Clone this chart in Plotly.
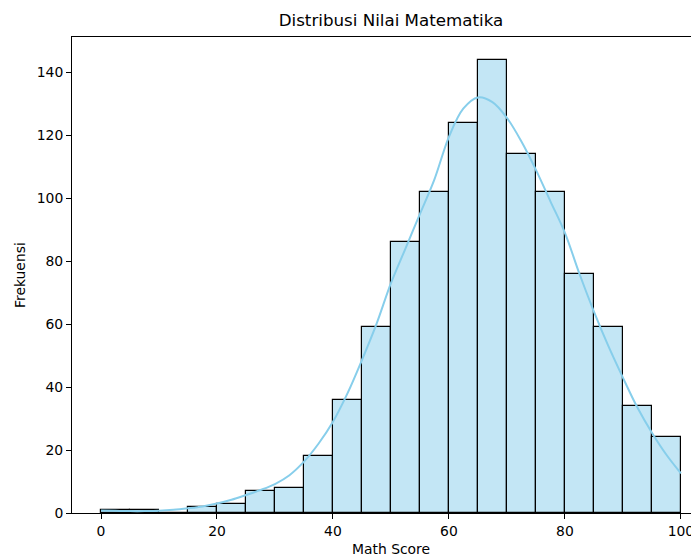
import plotly.graph_objects as go

# Histogram bins (width 5) and counts
bin_left = [0, 5, 10, 15, 20, 25, 30, 35, 40, 45, 50, 55, 60, 65, 70, 75, 80, 85, 90, 95]
counts = [1, 1, 0, 2, 3, 7, 8, 18, 36, 59, 86, 102, 124, 144, 114, 102, 76, 59, 34, 24]
bin_width = 5

# KDE curve
kde_x = [0, 2.5, 5, 7.5, 10, 12.5, 15, 17.5, 20, 22.5, 25, 27.5, 30, 32.5, 35, 37.5,
         40, 42.5, 45, 47.5, 50, 52.5, 55, 57.5, 60, 62.5, 65, 67.5, 70, 72.5, 75,
         77.5, 80, 82.5, 85, 87.5, 90, 92.5, 95, 97.5, 100]
kde_y = [0.8, 0.7, 0.6, 0.6, 0.7, 1.0, 1.5, 2.1, 3.0, 4.2, 5.7, 7.3, 9.2, 12.0, 16.3, 22,
         29, 38, 48.6, 60, 73, 84, 95, 106, 119.5, 128.5, 132, 130.5, 125.5, 118, 109,
         99, 89, 76, 64, 53, 43, 33.5, 25.5, 18.5, 12.6]

x_ticks = [0, 20, 40, 60, 80, 100]
y_ticks = [0, 20, 40, 60, 80, 100, 120, 140]

centers = [b + bin_width / 2 for b in bin_left]

fig = go.Figure()
fig.add_trace(go.Bar(
    x=centers, y=counts, width=[bin_width] * len(counts),
    marker=dict(color="rgba(135,206,235,0.5)", line=dict(color="black", width=1.2)),
    showlegend=False, hoverinfo="x+y",
))
fig.add_trace(go.Scatter(
    x=kde_x, y=kde_y, mode="lines",
    line=dict(color="rgb(135,206,235)", width=2, shape="spline"),
    showlegend=False,
))

font_family = "DejaVu Sans"
W, H = 699, 556  # page body adds an 8px offset; right/bottom overflow is cropped
PW, PH = W - 64, 476
fig.update_layout(
    width=W, height=H,
    margin=dict(l=64, r=0, t=29, b=H - 29 - PH, autoexpand=False),
    plot_bgcolor="white", paper_bgcolor="white",
    bargap=0,
    font=dict(family=font_family, size=13.9, color="black"),
    title=dict(text="Distribusi Nilai Matematika", xref="container", yref="container",
               x=383 / W, y=1 - 12 / H, xanchor="center", yanchor="middle",
               font=dict(family=font_family, size=16.7, color="black")),
    xaxis=dict(range=[-5, 104.5], tickvals=x_ticks, ticks="outside", ticklen=5,
               tickcolor="black", showline=True, linecolor="black", linewidth=1,
               mirror=True, showgrid=False, zeroline=False,
               tickfont=dict(family=font_family, size=13.9)),
    yaxis=dict(range=[0, 151.2], tickvals=y_ticks, ticks="outside", ticklen=5,
               tickcolor="black", showline=True, linecolor="black", linewidth=1,
               showgrid=False, zeroline=False,
               tickfont=dict(family=font_family, size=13.9)),
    annotations=[
        dict(text="Math Score", xref="paper", yref="paper",
             x=(391 - 72) / PW, y=(513 - 549) / PH, xanchor="center", yanchor="middle",
             showarrow=False, font=dict(family=font_family, size=13.9)),
        dict(text="Frekuensi", xref="paper", yref="paper", textangle=-90,
             x=(20 - 72) / PW, y=0.5, xanchor="center", yanchor="middle",
             showarrow=False, font=dict(family=font_family, size=13.9)),
    ],
)

fig.write_html("out.html")
